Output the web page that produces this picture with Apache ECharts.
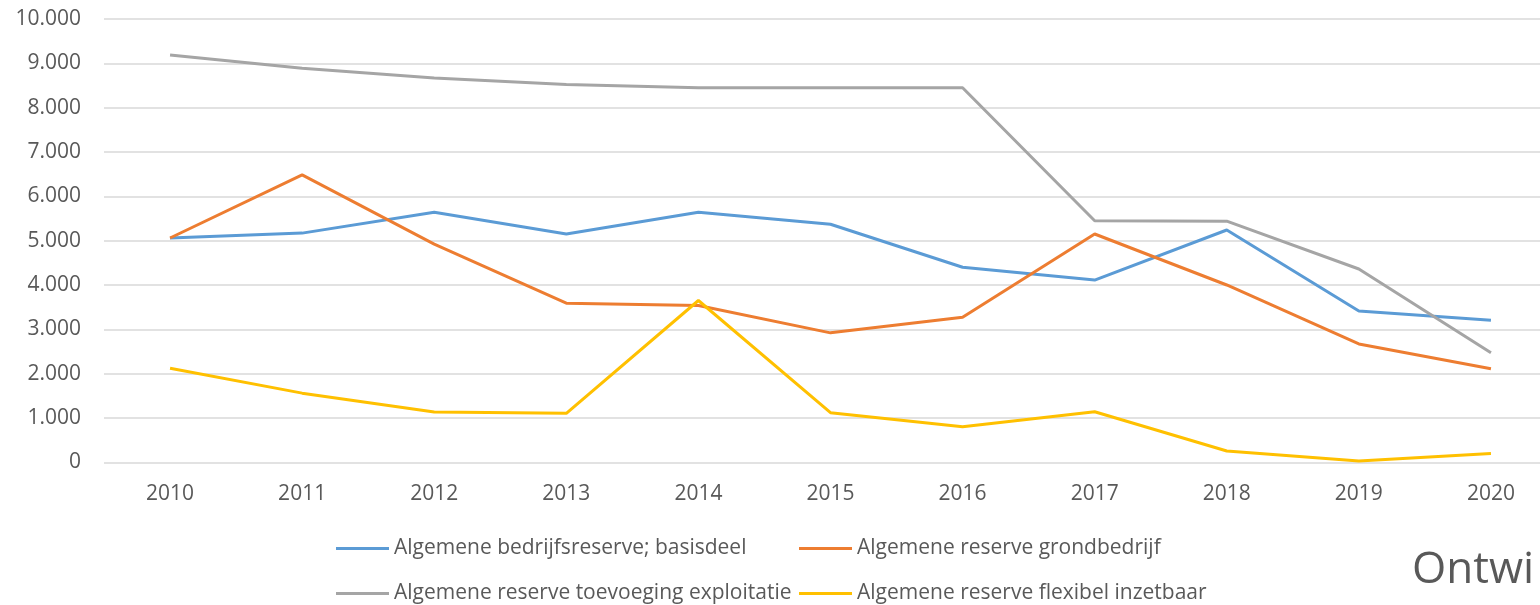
<!DOCTYPE html>
<html>
<head>
<meta charset="utf-8">
<script src="https://cdn.jsdelivr.net/npm/echarts@6/dist/echarts.min.js"></script>
<style>
  html, body { margin: 0; padding: 0; background: #fff; overflow: hidden; }
  #main { width: 1557px; height: 605px; }
</style>
</head>
<body>
<div id="main"></div>
<script>
  var years = ['2010', '2011', '2012', '2013', '2014', '2015', '2016', '2017', '2018', '2019', '2020'];
  var basisdeel = [5060, 5170, 5640, 5150, 5640, 5370, 4400, 4110, 5240, 3415, 3205];
  var grondbedrijf = [5060, 6485, 4920, 3590, 3535, 2920, 3270, 5150, 4000, 2670, 2110];
  var toevoeging = [9190, 8890, 8670, 8520, 8450, 8450, 8450, 5450, 5440, 4360, 2470];
  var flexibel = [2120, 1560, 1135, 1105, 3650, 1120, 800, 1140, 255, 30, 200];
  var names = [
    'Algemene bedrijfsreserve; basisdeel',
    'Algemene reserve grondbedrijf',
    'Algemene reserve toevoeging exploitatie',
    'Algemene reserve flexibel inzetbaar'
  ];
  var colors = ['#5B9BD5', '#ED7D31', '#A5A5A5', '#FFC000'];
  var font = 'Open Sans';
  var textColor = '#595959';

  // 10000 -> 10.000
  function nl(v) {
    return String(v).replace(/\B(?=(\d{3})+(?!\d))/g, '.');
  }

  function legendAt(name, left, top) {
    return {
      data: [name], left: left, top: top,
      itemWidth: 53, itemHeight: 3,
      icon: 'rect',
      textStyle: { fontFamily: font, fontSize: 21, color: textColor }
    };
  }

  var chart = echarts.init(document.getElementById('main'));
  chart.setOption({
    animation: false,
    color: colors,
    grid: { left: 104, right: 0, top: 19, height: 443.3 },
    xAxis: {
      type: 'category',
      data: years,
      boundaryGap: true,
      axisLine: { show: false },
      axisTick: { show: false },
      axisLabel: { fontFamily: font, fontSize: 21, color: textColor, margin: 21 }
    },
    yAxis: {
      type: 'value',
      min: 0, max: 10000, interval: 1000,
      axisLine: { show: false },
      axisTick: { show: false },
      splitLine: { lineStyle: { color: '#D9D9D9', width: 1.5 } },
      axisLabel: { fontFamily: font, fontSize: 21, color: textColor, margin: 23, formatter: nl }
    },
    legend: [
      legendAt(names[0], 331, 533),
      legendAt(names[1], 794, 533),
      legendAt(names[2], 331, 578),
      legendAt(names[3], 794, 578)
    ],
    graphic: [{
      type: 'text', x: 1412, y: 570,
      style: { text: 'Ontwi', fontFamily: font, fontSize: 44, fill: textColor, verticalAlign: 'middle' }
    }],
    series: [
      { name: names[0], type: 'line', data: basisdeel },
      { name: names[1], type: 'line', data: grondbedrijf },
      { name: names[2], type: 'line', data: toevoeging },
      { name: names[3], type: 'line', data: flexibel }
    ].map(function (s) {
      s.symbol = 'none';
      s.lineStyle = { width: 3 };
      return s;
    })
  });
</script>
</body>
</html>
